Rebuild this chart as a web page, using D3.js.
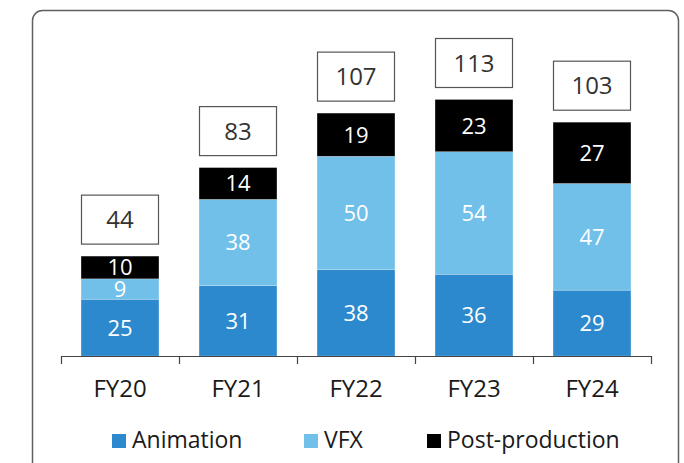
<!DOCTYPE html>
<html>
<head>
<meta charset="utf-8">
<script src="https://cdn.jsdelivr.net/npm/d3@7"></script>
<style>
    html, body { margin: 0; padding: 0; background: #fff; }
    svg { display: block; font-family: "Open Sans", "Noto Sans", sans-serif; }
</style>
</head>
<body>
<svg id="chart" width="684" height="463"></svg>
<script>
const years = ['FY20', 'FY21', 'FY22', 'FY23', 'FY24'];
const animation = [25, 31, 38, 36, 29];
const vfx = [9, 38, 50, 54, 47];
const postProduction = [10, 14, 19, 23, 27];
const totals = [44, 83, 107, 113, 103];
const seriesNames = ['Animation', 'VFX', 'Post-production'];
const seriesColors = ['#2d89cd', '#70c0e9', '#000000'];

const svg = d3.select('#chart');

// Card frame (bottom edge runs off the page)
svg.append('rect')
    .attr('x', 32.5)
    .attr('y', 10.5)
    .attr('width', 646)
    .attr('height', 480)
    .attr('rx', 10)
    .attr('fill', 'none')
    .attr('stroke', '#5f5f5f')
    .attr('stroke-width', 1.5);

const table = years.map((y, i) => ({
    year: y,
    Animation: animation[i],
    VFX: vfx[i],
    'Post-production': postProduction[i],
    total: totals[i]
}));

const stack = d3.stack().keys(seriesNames)(table);

const xScale = d3.scaleBand()
    .domain(years)
    .range([61, 651])
    .paddingInner(0.34)
    .paddingOuter(0.17);

const yScale = d3.scaleLinear()
    .domain([0, 113])
    .range([356, 99.5]);

const color = d3.scaleOrdinal().domain(seriesNames).range(seriesColors);

// Bars
const layers = svg.append('g')
    .selectAll('g')
    .data(stack)
    .enter()
    .append('g')
    .attr('fill', d => color(d.key));

layers.selectAll('rect')
    .data(d => d)
    .enter()
    .append('rect')
    .attr('x', d => xScale(d.data.year))
    .attr('width', xScale.bandwidth())
    .attr('y', d => yScale(d[1]))
    .attr('height', d => yScale(d[0]) - yScale(d[1]))
    .attr('stroke', '#ffffff')
    .attr('stroke-opacity', 0.35)
    .attr('stroke-width', 0.6);

// Segment labels
layers.selectAll('text')
    .data(d => d)
    .enter()
    .append('text')
    .attr('x', d => xScale(d.data.year) + xScale.bandwidth() / 2)
    .attr('y', d => (yScale(d[0]) + yScale(d[1])) / 2)
    .attr('dy', '0.36em')
    .attr('text-anchor', 'middle')
    .attr('font-size', '22px')
    .attr('fill', '#ffffff')
    .text(d => d[1] - d[0]);

// Total boxes
const boxW = 77, boxH = 49, boxGap = 12;
const totalsG = svg.append('g')
    .selectAll('g')
    .data(table)
    .enter()
    .append('g')
    .attr('transform', d => `translate(${xScale(d.year) + xScale.bandwidth() / 2},${yScale(d.total) - boxGap - boxH})`);

totalsG.append('rect')
    .attr('x', -boxW / 2)
    .attr('y', 0)
    .attr('width', boxW)
    .attr('height', boxH)
    .attr('fill', '#ffffff')
    .attr('stroke', '#555555')
    .attr('stroke-width', 1.2);

totalsG.append('text')
    .attr('x', 0)
    .attr('y', boxH / 2)
    .attr('dy', '0.36em')
    .attr('text-anchor', 'middle')
    .attr('font-size', '24px')
    .attr('fill', '#333333')
    .text(d => d.total);

// X axis: baseline, boundary ticks, labels
const step = xScale.step();
const bounds = years.map(y => xScale(y) - step * xScale.paddingInner() / 2)
    .concat([xScale(years[years.length - 1]) + xScale.bandwidth() + step * xScale.paddingInner() / 2]);

const axisG = svg.append('g');
axisG.append('line')
    .attr('x1', bounds[0]).attr('x2', bounds[bounds.length - 1])
    .attr('y1', 356.5).attr('y2', 356.5)
    .attr('stroke', '#444444')
    .attr('stroke-width', 1.2);

axisG.selectAll('.tick-mark')
    .data(bounds)
    .enter()
    .append('line')
    .attr('class', 'tick-mark')
    .attr('x1', d => Math.round(d) + 0.5).attr('x2', d => Math.round(d) + 0.5)
    .attr('y1', 356).attr('y2', 364)
    .attr('stroke', '#444444')
    .attr('stroke-width', 1.2);

axisG.selectAll('.x-label')
    .data(years)
    .enter()
    .append('text')
    .attr('class', 'x-label')
    .attr('x', d => xScale(d) + xScale.bandwidth() / 2)
    .attr('y', 397)
    .attr('text-anchor', 'middle')
    .attr('font-size', '24px')
    .attr('fill', '#1a1a1a')
    .text(d => d);

// Legend
const legendX = [112, 304, 427];
const legend = svg.append('g')
    .selectAll('g')
    .data(seriesNames)
    .enter()
    .append('g')
    .attr('transform', (d, i) => `translate(${legendX[i]},434)`);

legend.append('rect')
    .attr('width', 14)
    .attr('height', 14)
    .attr('fill', d => color(d));

legend.append('text')
    .attr('x', 20)
    .attr('y', 14)
    .attr('font-size', '23px')
    .attr('fill', '#1a1a1a')
    .text(d => d);
</script>
</body>
</html>
